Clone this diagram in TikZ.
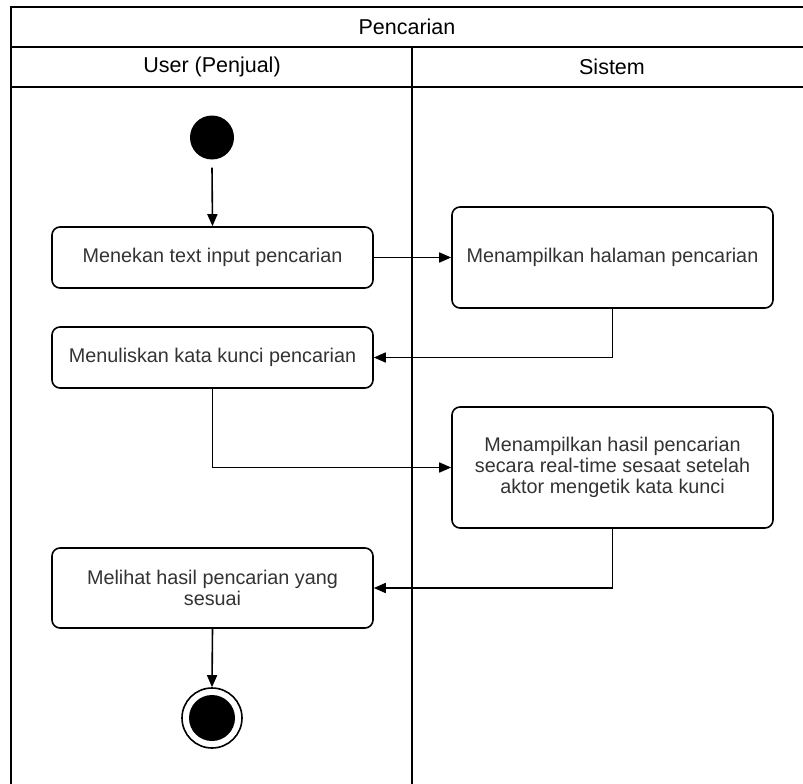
\documentclass[tikz,border=0pt]{standalone}
\usepackage{fontspec}
\setmainfont{Liberation Sans}
\usetikzlibrary{arrows.meta}
\definecolor{boxtext}{HTML}{333333}
\begin{document}
\begin{tikzpicture}[x=1pt,y=-1pt,
  frame/.style={line width=2pt,draw=black},
  lanehead/.style={font=\fontsize{21.5}{25}\selectfont,text=black},
  action/.style={draw=black,line width=1.6pt,rounded corners=8pt,
    minimum width=321pt,align=center,inner sep=0pt,text=boxtext,
    font=\fontsize{19.8}{21}\selectfont},
  flow/.style={line width=1.6pt,-{Triangle[length=12pt,width=10pt]}},
  startnode/.style={circle,fill=black,minimum size=44pt,inner sep=0pt},
  endring/.style={circle,draw=black,line width=1.6pt,minimum size=60pt,inner sep=0pt},
  endcore/.style={circle,fill=black,minimum size=46pt,inner sep=0pt}]
\useasboundingbox (0,0) rectangle (803,784);
\fill[white] (0,0) rectangle (803,784);
% swimlane frame
\draw[frame] (803,7) -- (11,7) -- (11,784);
\draw[frame] (11,47) -- (803,47);
\draw[frame] (11,87) -- (803,87);
\draw[frame] (412,47) -- (412,784);
\node[lanehead] (title) at (407,27) {Pencarian};
\node[lanehead] (laneuser) at (212,67) {User (Penjual)};
\node[lanehead] (lanesys) at (612,67) {Sistem};
% activity nodes
\node[startnode] (start) at (212,137.5) {};
\node[action,minimum height=61pt] (tekan) at (212.5,257.5) {Menekan text input pencarian};
\node[action,minimum height=101pt] (halaman) at (612.5,257.5) {Menampilkan halaman pencarian};
\node[action,minimum height=61pt] (tulis) at (212.5,357.5) {Menuliskan kata kunci pencarian};
\node[action,minimum height=121pt] (hasil) at (612.5,467.5) {Menampilkan hasil pencarian\\secara real-time sesaat setelah\\aktor mengetik kata kunci};
\node[action,minimum height=80pt] (lihat) at (212.5,588) {Melihat hasil pencarian yang\\sesuai};
\node[endring] (stop) at (212,718) {};
\node[endcore] (stopcore) at (212,718) {};
% control flow
\draw[flow] (start.south) ++(0,8) coordinate (s0) -- (tekan.north);
\draw[flow] (tekan.east) -- (halaman.west);
\draw[flow] (halaman.south) |- (tulis.east);
\draw[flow] (tulis.south) |- (hasil.west);
\draw[flow] (hasil.south) |- (lihat.east);
\draw[flow] (lihat.south) -- (stop.north);
\end{tikzpicture}
\end{document}
